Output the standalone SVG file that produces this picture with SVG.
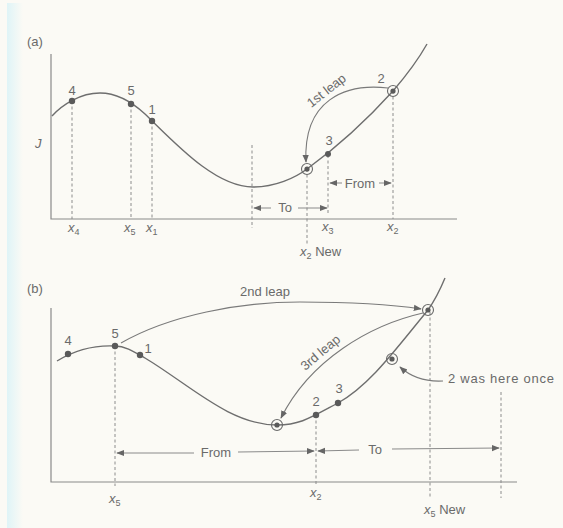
<svg xmlns="http://www.w3.org/2000/svg" width="563" height="528" viewBox="0 0 563 528">
<defs>
<linearGradient id="edge" x1="0" x2="1" y1="0" y2="0">
<stop offset="0" stop-color="#dff4f7"/>
<stop offset="1" stop-color="#fbfaf5"/>
</linearGradient>
<marker id="ah" viewBox="0 0 10 10" refX="9" refY="5" markerWidth="8" markerHeight="8" markerUnits="userSpaceOnUse" orient="auto">
<path d="M0,1 L10,5 L0,9 Z" fill="#666"/>
</marker>
<style>
.axis{fill:none;stroke:#8a8a8a;stroke-width:1.2}
.curve{fill:none;stroke:#6e6e6e;stroke-width:1.4}
.dash{fill:none;stroke:#8c8c8c;stroke-width:1;stroke-dasharray:3,2.5}
.leap{fill:none;stroke:#7a7a7a;stroke-width:1.1}
.dim{fill:none;stroke:#8a8a8a;stroke-width:1}
.dot{fill:#5a5a5a}
.ring{fill:none;stroke:#6a6a6a;stroke-width:1.1}
text{font-family:"Liberation Sans",Arial,sans-serif;font-size:13px;fill:#6a6a6a}
.it{font-style:italic}
.sub{font-size:9px}
</style>
</defs>
<rect width="563" height="528" fill="#fbfaf5"/>
<rect x="7" y="3" width="16" height="525" fill="url(#edge)"/>

<!-- Panel (a) -->
<g id="panel-a">
<text x="27" y="46">(a)</text>
<text x="35" y="148" class="it">J</text>
<path class="axis" d="M51,54 V219 H457"/>
<path class="curve" d="M52,116 C62,105 80,93 100,93 C118,93 132,102 145,114 C175,143 215,187 253,187 C275,187 295,178 307,169 C340,145 365,122 393,91 C405,77 418,60 427,44"/>
</g>

<g id="a-connectors">
<path class="dash" d="M72,101 V219"/>
<path class="dash" d="M131,104 V219"/>
<path class="dash" d="M152,121 V219"/>
<path class="dash" d="M252,145 V228"/>
<path class="dash" d="M307,169 V246"/>
<path class="dash" d="M328,155 V213"/>
<path class="dash" d="M393,91 V219"/>
<path class="dim" d="M271,208 H254" marker-end="url(#ah)"/>
<path class="dim" d="M298,208 H327" marker-end="url(#ah)"/>
<path class="dim" d="M342,183 H330" marker-end="url(#ah)"/>
<path class="dim" d="M379,183 H391" marker-end="url(#ah)"/>
<path class="leap" d="M388,88 C345,83 303,100 306,162" marker-end="url(#ah)"/>
</g>

<g id="a-points">
<circle class="dot" cx="72" cy="101" r="3.2"/>
<circle class="dot" cx="131" cy="104" r="3.2"/>
<circle class="dot" cx="152" cy="121" r="3.2"/>
<circle class="dot" cx="328" cy="154" r="3"/>
<circle class="ring" cx="307" cy="169" r="5.5"/><circle class="dot" cx="307" cy="169" r="2.6"/>
<circle class="ring" cx="393" cy="91" r="5.5"/><circle class="dot" cx="393" cy="91" r="2.6"/>
<text x="72" y="95" text-anchor="middle">4</text>
<text x="131" y="95" text-anchor="middle">5</text>
<text x="152" y="114" text-anchor="middle">1</text>
<text x="329" y="145" text-anchor="middle">3</text>
<text x="381" y="83" text-anchor="middle">2</text>
<text x="326" y="95" text-anchor="middle" transform="rotate(-38 326 90)">1st leap</text>
<text x="285" y="212" text-anchor="middle">To</text>
<text x="360" y="188" text-anchor="middle">From</text>
<text x="68" y="232"><tspan class="it">x</tspan><tspan class="sub" dy="3">4</tspan></text>
<text x="124" y="232"><tspan class="it">x</tspan><tspan class="sub" dy="3">5</tspan></text>
<text x="146" y="232"><tspan class="it">x</tspan><tspan class="sub" dy="3">1</tspan></text>
<text x="322" y="231"><tspan class="it">x</tspan><tspan class="sub" dy="3">3</tspan></text>
<text x="387" y="231"><tspan class="it">x</tspan><tspan class="sub" dy="3">2</tspan></text>
<text x="300" y="256"><tspan class="it">x</tspan><tspan class="sub" dy="3">2</tspan><tspan dy="-3"> New</tspan></text>
</g>

<!-- Panel (b) -->
<g id="panel-b">
<text x="27" y="293">(b)</text>
<path class="axis" d="M51,308 V482 H517"/>
<path class="curve" d="M57,361 C75,350 95,345 115,346 C125,346 133,351 145,358 C190,385 230,425 277,425 C300,425 310,418 338,403 C370,385 395,350 428,310 C435,300 440,290 445,278"/>
</g>

<g id="b-connectors">
<path class="dash" d="M115,346 V486"/>
<path class="dash" d="M316,415 V486"/>
<path class="dash" d="M430,312 V498"/>
<path class="dash" d="M501,392 V498"/>
<path class="dim" d="M194,453 L117,453" marker-end="url(#ah)"/>
<path class="dim" d="M238,452 L314,451" marker-end="url(#ah)"/>
<path class="dim" d="M359,450 L318,451" marker-end="url(#ah)"/>
<path class="dim" d="M392,449 L499,448" marker-end="url(#ah)"/>
<path class="leap" d="M121,343 C170,315 240,302 300,302 C360,302 395,305 421,309" marker-end="url(#ah)"/>
<path class="leap" d="M423,313 C370,325 310,360 281,418" marker-end="url(#ah)"/>
<path class="leap" d="M443,381 C425,382 410,376 400,367" marker-end="url(#ah)"/>
</g>

<g id="b-points">
<circle class="dot" cx="68" cy="354" r="3.2"/>
<circle class="dot" cx="115" cy="346" r="3.2"/>
<circle class="dot" cx="140" cy="355" r="3.2"/>
<circle class="dot" cx="316" cy="415" r="3.2"/>
<circle class="dot" cx="338" cy="403" r="3.2"/>
<circle class="ring" cx="277" cy="425" r="5.5"/><circle class="dot" cx="277" cy="425" r="2.6"/>
<circle class="ring" cx="392" cy="359" r="5.5"/><circle class="dot" cx="392" cy="359" r="2.6"/>
<circle class="ring" cx="428" cy="310" r="5.5"/><circle class="dot" cx="428" cy="310" r="2.6"/>
<text x="68" y="345" text-anchor="middle">4</text>
<text x="115" y="338" text-anchor="middle">5</text>
<text x="148" y="353" text-anchor="middle">1</text>
<text x="316" y="406" text-anchor="middle">2</text>
<text x="339" y="393" text-anchor="middle">3</text>
<text x="265" y="296" text-anchor="middle">2nd leap</text>
<text x="320" y="357" text-anchor="middle" transform="rotate(-40 320 352)">3rd leap</text>
<text x="448" y="383" textLength="106" lengthAdjust="spacing">2 was here once</text>
<text x="216" y="457" text-anchor="middle">From</text>
<text x="375" y="454" text-anchor="middle">To</text>
<text x="109" y="503"><tspan class="it">x</tspan><tspan class="sub" dy="3">5</tspan></text>
<text x="310" y="497"><tspan class="it">x</tspan><tspan class="sub" dy="3">2</tspan></text>
<text x="424" y="514"><tspan class="it">x</tspan><tspan class="sub" dy="3">5</tspan><tspan dy="-3"> New</tspan></text>
</g>
</svg>
